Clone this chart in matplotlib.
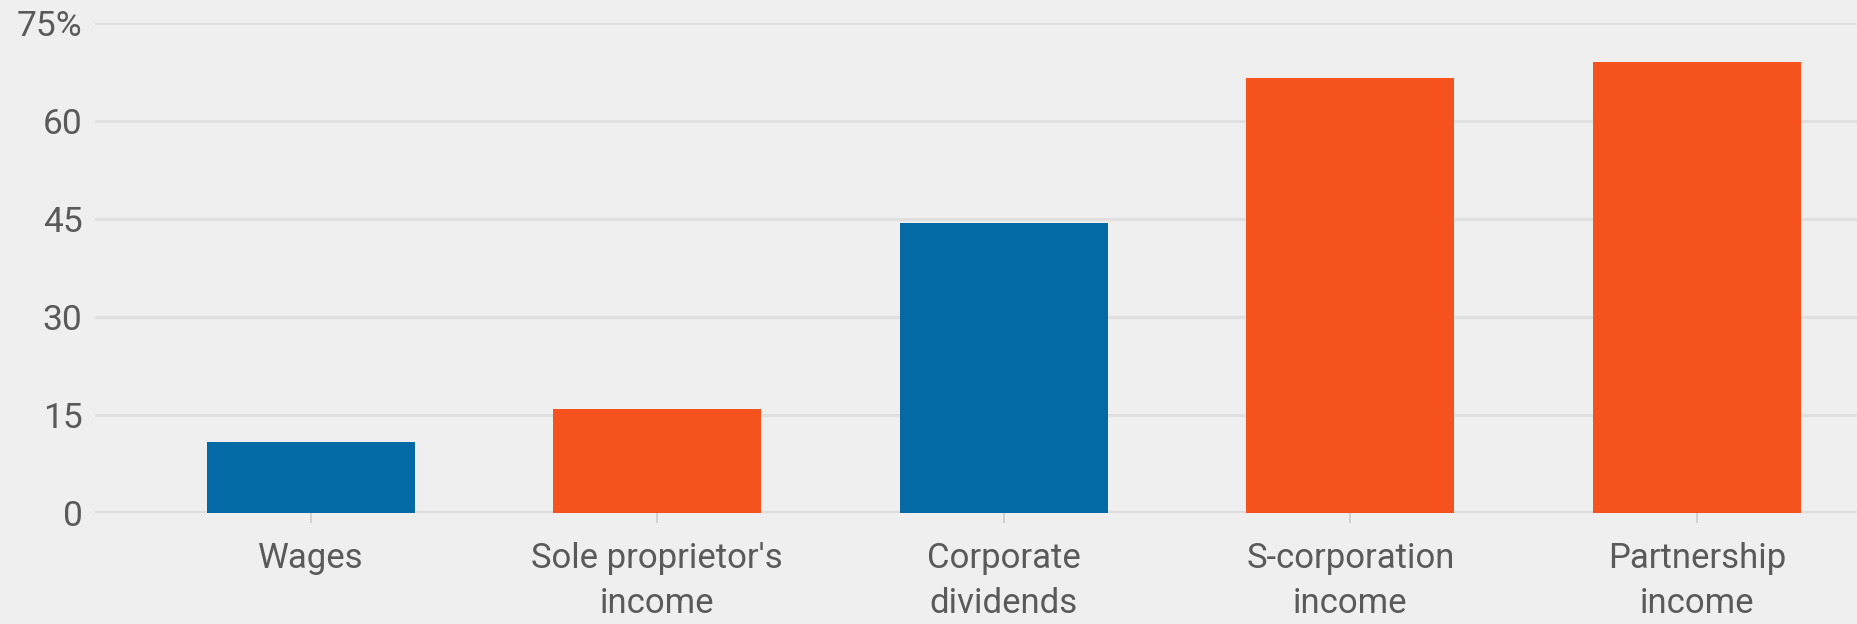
import matplotlib.pyplot as plt

categories = ["Wages", "Sole proprietor's\nincome", "Corporate\ndividends",
              "S-corporation\nincome", "Partnership\nincome"]
values = [10.9, 16.0, 44.5, 66.7, 69.0]
colors = ["#036aa6", "#f5521e", "#036aa6", "#f5521e", "#f5521e"]
yticks = [0, 15, 30, 45, 60, 75]
ytick_labels = ["0", "15", "30", "45", "60", "75%"]

plt.rcParams["font.family"] = ["Roboto", "DejaVu Sans"]

bg = "#efefef"
fig = plt.figure(figsize=(18.57, 6.24), dpi=100, facecolor=bg)
ax = fig.add_axes([0.0512, 0.1774, 0.9488, 0.7853], facecolor=bg)

x = range(len(categories))
ax.bar(x, values, width=0.6, color=colors, zorder=3)

ax.set_xlim(-0.622, 4.462)
ax.set_ylim(0, 75)
ax.set_yticks(yticks)
ax.set_yticklabels(ytick_labels)
ax.set_xticks(list(x))
ax.set_xticklabels(categories, linespacing=1.45)

for spine in ax.spines.values():
    spine.set_visible(False)

ax.grid(axis="y", color="#e0e0e0", linewidth=2.2, zorder=0)
ax.axhline(0, color="#dcdcdc", linewidth=3, zorder=2)

ax.tick_params(axis="y", length=0, pad=9, labelsize=25.5, labelcolor="#5a5a5a")
ax.tick_params(axis="x", length=7, width=1.2, color="#cccccc", pad=14,
               labelsize=25, labelcolor="#5a5a5a")

fig.savefig("out.png", dpi=100, facecolor=bg)
